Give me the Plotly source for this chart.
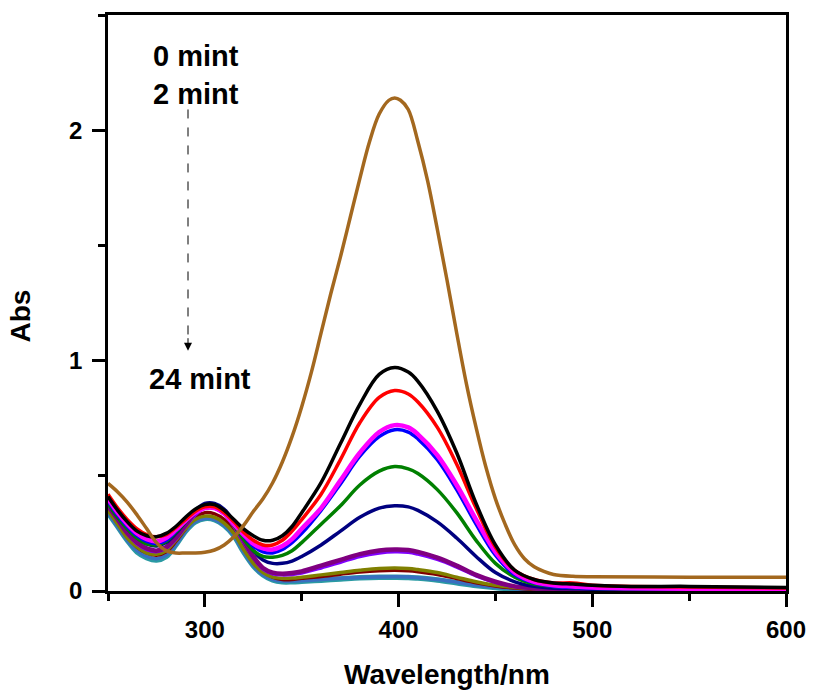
import plotly.graph_objects as go

# wavelength grid (nm) for the 2..24 min spectra
wl = [250, 255, 260, 265, 270, 275, 280, 285, 290, 295, 300, 305, 310, 315, 320, 325,
      330, 335, 340, 345, 350, 360, 370, 380, 390, 398, 405, 410, 420, 430, 440, 450,
      460, 470, 480, 490, 500, 520, 550, 600]

# 0 min spectrum (own grid)
wl_0 = [250, 255, 260, 265, 270, 275, 280, 285, 290, 295, 300, 305, 310, 315, 320, 325,
        330, 335, 340, 345, 350, 355, 360, 365, 370, 375, 380, 385, 390, 395, 398, 401,
        405, 410, 415, 420, 425, 430, 435, 440, 445, 450, 455, 460, 465, 470, 475, 480,
        490, 500, 550, 600]
abs_0 = [0.467, 0.43, 0.385, 0.33, 0.27, 0.21, 0.175, 0.165, 0.165, 0.165, 0.168, 0.178,
         0.20, 0.235, 0.285, 0.345, 0.40, 0.47, 0.56, 0.67, 0.80, 0.95, 1.12, 1.29, 1.45,
         1.62, 1.79, 1.95, 2.07, 2.13, 2.14, 2.13, 2.09, 1.95, 1.78, 1.57, 1.35, 1.12, 0.90,
         0.71, 0.54, 0.40, 0.29, 0.20, 0.14, 0.105, 0.085, 0.072, 0.064, 0.062, 0.06, 0.06]

abs_2 = [0.41, 0.35, 0.30, 0.26, 0.24, 0.235, 0.25, 0.28, 0.32, 0.355, 0.375, 0.375, 0.35, 0.31, 0.27, 0.24,
         0.22, 0.22, 0.24, 0.28, 0.34, 0.47, 0.64, 0.81, 0.94, 0.97, 0.95, 0.91, 0.78, 0.60, 0.38, 0.20,
         0.09, 0.05, 0.035, 0.03, 0.025, 0.02, 0.02, 0.015]
abs_4 = [0.42, 0.36, 0.31, 0.27, 0.245, 0.235, 0.245, 0.275, 0.31, 0.345, 0.365, 0.365, 0.34, 0.30, 0.255, 0.22,
         0.20, 0.20, 0.22, 0.26, 0.31, 0.42, 0.57, 0.73, 0.84, 0.87, 0.855, 0.82, 0.71, 0.55, 0.36, 0.19,
         0.09, 0.05, 0.035, 0.035, 0.025, 0.02, 0.017, 0.013]
abs_6 = [0.40, 0.34, 0.29, 0.25, 0.225, 0.215, 0.23, 0.265, 0.305, 0.34, 0.36, 0.36, 0.335, 0.29, 0.245, 0.205,
         0.185, 0.18, 0.195, 0.225, 0.27, 0.36, 0.48, 0.60, 0.69, 0.72, 0.71, 0.68, 0.59, 0.46, 0.31, 0.17,
         0.08, 0.04, 0.025, 0.02, 0.015, 0.012, 0.01, 0.008]
abs_8 = [0.39, 0.33, 0.28, 0.24, 0.215, 0.205, 0.22, 0.26, 0.305, 0.345, 0.37, 0.37, 0.345, 0.295, 0.24, 0.195,
         0.17, 0.165, 0.18, 0.21, 0.25, 0.35, 0.465, 0.585, 0.67, 0.70, 0.69, 0.66, 0.57, 0.44, 0.29, 0.155,
         0.07, 0.035, 0.02, 0.015, 0.012, 0.01, 0.008, 0.006]
abs_10 = [0.38, 0.32, 0.27, 0.23, 0.205, 0.2, 0.215, 0.255, 0.3, 0.34, 0.36, 0.36, 0.335, 0.285, 0.225, 0.175,
          0.15, 0.147, 0.155, 0.175, 0.21, 0.29, 0.37, 0.46, 0.52, 0.54, 0.53, 0.51, 0.44, 0.34, 0.22, 0.12,
          0.06, 0.03, 0.02, 0.015, 0.012, 0.01, 0.008, 0.006]
abs_12 = [0.38, 0.32, 0.27, 0.23, 0.205, 0.195, 0.21, 0.25, 0.30, 0.35, 0.38, 0.38, 0.355, 0.30, 0.235, 0.175,
          0.135, 0.12, 0.12, 0.13, 0.15, 0.20, 0.26, 0.32, 0.36, 0.37, 0.365, 0.35, 0.30, 0.23, 0.15, 0.08,
          0.04, 0.02, 0.012, 0.01, 0.008, 0.006, 0.005, 0.005]
abs_14 = [0.37, 0.31, 0.25, 0.21, 0.185, 0.175, 0.19, 0.23, 0.285, 0.34, 0.37, 0.37, 0.345, 0.29, 0.22, 0.15,
          0.10, 0.08, 0.075, 0.078, 0.085, 0.11, 0.135, 0.16, 0.176, 0.18, 0.178, 0.17, 0.145, 0.11, 0.07, 0.04,
          0.02, 0.012, 0.008, 0.006, 0.005, 0.005, 0.005, 0.005]
abs_16 = [0.37, 0.31, 0.25, 0.205, 0.18, 0.17, 0.185, 0.225, 0.28, 0.33, 0.36, 0.36, 0.335, 0.28, 0.21, 0.145,
          0.095, 0.075, 0.07, 0.072, 0.078, 0.10, 0.125, 0.15, 0.165, 0.17, 0.168, 0.16, 0.137, 0.104, 0.066, 0.038,
          0.019, 0.011, 0.008, 0.006, 0.005, 0.005, 0.005, 0.005]
abs_18 = [0.35, 0.29, 0.23, 0.19, 0.165, 0.16, 0.175, 0.22, 0.27, 0.31, 0.325, 0.32, 0.295, 0.25, 0.18, 0.12,
          0.08, 0.06, 0.055, 0.056, 0.06, 0.07, 0.08, 0.09, 0.098, 0.10, 0.098, 0.093, 0.08, 0.06, 0.04, 0.025,
          0.015, 0.01, 0.007, 0.005, 0.005, 0.005, 0.005, 0.005]
abs_20 = [0.36, 0.30, 0.24, 0.19, 0.165, 0.155, 0.17, 0.215, 0.27, 0.32, 0.34, 0.335, 0.31, 0.26, 0.19, 0.13,
          0.085, 0.06, 0.05, 0.05, 0.055, 0.063, 0.073, 0.082, 0.088, 0.09, 0.088, 0.084, 0.072, 0.054, 0.036, 0.022,
          0.013, 0.008, 0.006, 0.005, 0.005, 0.005, 0.005, 0.005]
abs_22 = [0.34, 0.28, 0.22, 0.175, 0.15, 0.14, 0.155, 0.2, 0.26, 0.3, 0.315, 0.31, 0.285, 0.24, 0.17, 0.11,
          0.07, 0.05, 0.043, 0.043, 0.045, 0.05, 0.055, 0.059, 0.061, 0.062, 0.061, 0.058, 0.05, 0.038, 0.025, 0.016,
          0.01, 0.007, 0.005, 0.004, 0.004, 0.004, 0.004, 0.004]
abs_24 = [0.34, 0.28, 0.22, 0.17, 0.145, 0.135, 0.15, 0.2, 0.26, 0.3, 0.315, 0.31, 0.285, 0.24, 0.17, 0.11,
          0.07, 0.048, 0.04, 0.04, 0.042, 0.047, 0.052, 0.057, 0.06, 0.06, 0.059, 0.056, 0.048, 0.036, 0.024, 0.015,
          0.009, 0.006, 0.005, 0.004, 0.004, 0.004, 0.004, 0.004]

series_names = ["2 min", "4 min", "6 min", "8 min", "10 min", "12 min", "14 min",
                "16 min", "18 min", "20 min", "22 min", "24 min"]
series_vals = [abs_2, abs_4, abs_6, abs_8, abs_10, abs_12, abs_14, abs_16, abs_18, abs_20, abs_22, abs_24]
series_cols = ["#000000", "#FF0000", "#FF00FF", "#0000FF", "#008000", "#000080", "#800080",
               "#8000FF", "#808000", "#800000", "#3A6FC0", "#2A9AA3"]
series_w = [3.5, 3.5, 4.5, 3.5, 3.5, 3.5, 4.5, 3.5, 3.5, 3.5, 3.5, 5.5]

x_ticks = [300, 400, 500, 600]
y_ticks = [0, 1, 2]

FONT = "Arial, Liberation Sans, sans-serif"

fig = go.Figure()
# draw low curves first so upper curves sit on top
for name, vals, col, w in reversed(list(zip(series_names, series_vals, series_cols, series_w))):
    fig.add_trace(go.Scatter(x=wl, y=vals, mode="lines", name=name,
                             line=dict(color=col, width=w, shape="spline", smoothing=1.0)))
fig.add_trace(go.Scatter(x=wl_0, y=abs_0, mode="lines", name="0 min",
                         line=dict(color="#A3681F", width=3.5, shape="spline", smoothing=1.0)))

axis_common = dict(showline=True, linecolor="black", linewidth=2.5, mirror=True,
                   ticks="outside", tickcolor="black", tickwidth=2.5, ticklen=13,
                   showgrid=False, zeroline=False,
                   tickfont=dict(family=FONT, size=24, color="black", weight="bold"))

fig.update_xaxes(range=[250, 600], tickvals=x_ticks, ticktext=[str(v) for v in x_ticks],
                 minor=dict(dtick=50, tick0=250, ticks="outside", ticklen=7, tickwidth=2.5,
                            tickcolor="black", showgrid=False),
                 ticklabelstandoff=2, **axis_common)
fig.update_yaxes(range=[0, 2.5], tickvals=y_ticks, ticktext=[str(v) for v in y_ticks],
                 minor=dict(dtick=0.5, tick0=0, ticks="outside", ticklen=7, tickwidth=2.5,
                            tickcolor="black", showgrid=False),
                 ticklabelstandoff=5, **axis_common)

ann_font = dict(family=FONT, size=29, color="black", weight="bold")
fig.add_annotation(x=272.4, y=2.32, text="0 mint", showarrow=False, xanchor="left",
                   yanchor="middle", font=ann_font)
fig.add_annotation(x=272.4, y=2.155, text="2 mint", showarrow=False, xanchor="left",
                   yanchor="middle", font=ann_font)
fig.add_annotation(x=269.9, y=0.918, text="24 mint", showarrow=False, xanchor="left",
                   yanchor="middle", font=ann_font)
# dashed arrow
fig.add_shape(type="line", x0=291.3, x1=291.3, y0=2.09, y1=1.08,
              line=dict(color="black", width=1, dash="dash"))
fig.add_annotation(x=291.3, y=1.043, ax=0, ay=-14, text="", showarrow=True,
                   arrowhead=2, arrowsize=1.6, arrowwidth=1, arrowcolor="black")

# axis titles
fig.add_annotation(xref="paper", yref="paper", x=0.5, y=0, yshift=-83, text="Wavelength/nm",
                   showarrow=False, xanchor="center", yanchor="middle",
                   font=dict(family=FONT, size=28, color="black", weight="bold"))
fig.add_annotation(xref="paper", yref="paper", x=0, y=0.4766, xshift=-88, text="Abs",
                   textangle=-90, showarrow=False, xanchor="center", yanchor="middle",
                   font=dict(family=FONT, size=28, color="black", weight="bold"))

fig.update_layout(width=818, height=692, margin=dict(l=108, r=23, t=14, b=101),
                  plot_bgcolor="white", paper_bgcolor="white", showlegend=False)

fig.write_html("out.html")
